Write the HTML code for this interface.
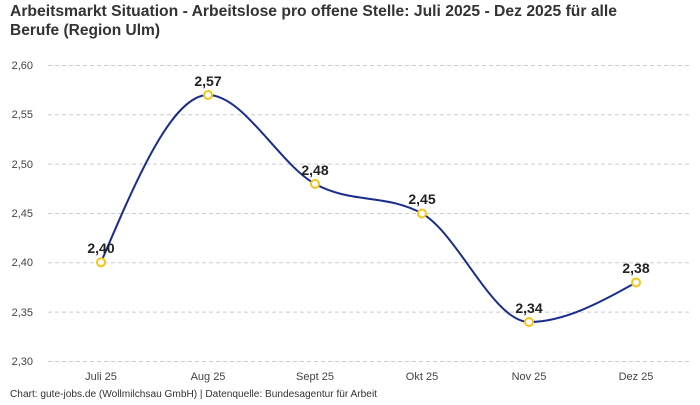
<!DOCTYPE html>
<html><head><meta charset="utf-8"><style>
html,body{margin:0;padding:0;background:#fff;}
body{width:700px;height:400px;overflow:hidden;font-family:"Liberation Sans",sans-serif;}
</style></head><body>
<svg width="700" height="400" xmlns="http://www.w3.org/2000/svg" font-family="Liberation Sans, sans-serif">
<text x="10" y="16" font-size="16" font-weight="bold" fill="#333" textLength="607" lengthAdjust="spacingAndGlyphs">Arbeitsmarkt Situation - Arbeitslose pro offene Stelle: Juli 2025 - Dez 2025 für alle</text>
<text x="10" y="35" font-size="16" font-weight="bold" fill="#333" textLength="150" lengthAdjust="spacingAndGlyphs">Berufe (Region Ulm)</text>
<g stroke="#ccc" stroke-dasharray="4,3" stroke-width="1">
<line x1="48" x2="690" y1="65.5" y2="65.5"/>
<line x1="48" x2="690" y1="114.8" y2="114.8"/>
<line x1="48" x2="690" y1="164.1" y2="164.1"/>
<line x1="48" x2="690" y1="213.5" y2="213.5"/>
<line x1="48" x2="690" y1="262.8" y2="262.8"/>
<line x1="48" x2="690" y1="312.1" y2="312.1"/>
<line x1="48" x2="690" y1="361.5" y2="361.5"/>
</g>
<g font-size="11" fill="#444" text-anchor="end">
<text x="33" y="69">2,60</text><text x="33" y="118">2,55</text><text x="33" y="168">2,50</text>
<text x="33" y="217">2,45</text><text x="33" y="266">2,40</text><text x="33" y="316">2,35</text><text x="33" y="365">2,30</text>
</g>
<g font-size="11" fill="#444" text-anchor="middle">
<text x="101" y="380">Juli 25</text><text x="208" y="380">Aug 25</text><text x="315" y="380">Sept 25</text>
<text x="422" y="380">Okt 25</text><text x="529" y="380">Nov 25</text><text x="636" y="380">Dez 25</text>
</g>
<path d="M101,262.3 C136.67,178.6 172.33,95 208,95 C243.67,95 279.33,164.1 315,183.9 C350.67,203.7 386.33,193.7 422,213.5 C457.67,233.3 493.33,322 529,322 C564.67,322 600.33,302.3 636,282.5" fill="none" stroke="#1a2d8f" stroke-width="2"/>
<g fill="#fff" stroke="#f5c518" stroke-width="2">
<circle cx="101" cy="262.3" r="4"/><circle cx="208" cy="95" r="4"/><circle cx="315" cy="183.9" r="4"/>
<circle cx="422" cy="213.5" r="4"/><circle cx="529" cy="322" r="4"/><circle cx="636" cy="282.5" r="4"/>
</g>
<g font-size="14" font-weight="bold" fill="#222" text-anchor="middle">
<text x="101" y="253">2,40</text><text x="208" y="86">2,57</text><text x="315" y="175">2,48</text>
<text x="422" y="204">2,45</text><text x="529" y="313">2,34</text><text x="636" y="273">2,38</text>
</g>
<text x="10" y="397" font-size="10" fill="#333" textLength="367" lengthAdjust="spacingAndGlyphs">Chart: gute-jobs.de (Wollmilchsau GmbH) | Datenquelle: Bundesagentur für Arbeit</text>
</svg>
</body></html>
